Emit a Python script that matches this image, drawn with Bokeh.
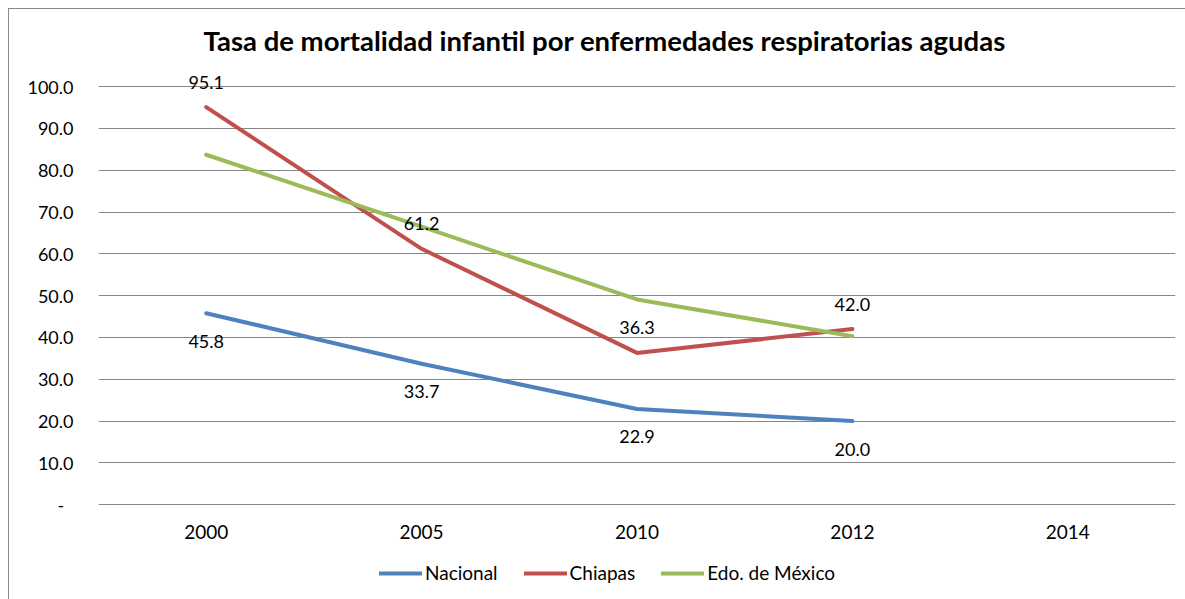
from bokeh.plotting import figure
from bokeh.models import (ColumnDataSource, LabelSet, Legend, LegendItem,
                          FixedTicker, Range1d)
from bokeh.core.properties import value
from bokeh.embed import file_html
from bokeh.resources import INLINE

# ---- data ----
categories = ["2000", "2005", "2010", "2012", "2014"]
data_years = ["2000", "2005", "2010", "2012"]
nacional = [45.8, 33.7, 22.9, 20.0]
chiapas = [95.1, 61.2, 36.3, 42.0]
edomex = [83.7, 66.5, 49.1, 40.3]
y_ticks = [0, 10, 20, 30, 40, 50, 60, 70, 80, 90, 100]
y_tick_labels = ["-\u00a0\u00a0", "10.0", "20.0", "30.0", "40.0", "50.0", "60.0",
                 "70.0", "80.0", "90.0", "100.0"]
title_text = "Tasa de mortalidad infantil por enfermedades respiratorias agudas"
series_names = ["Nacional", "Chiapas", "Edo. de México"]
colors = ["#4F81BD", "#C0504D", "#9BBB59"]

FONT = "Lato"
Y_MIN, Y_MAX = -21, 106   # extra room below/above the 0-100 scale for axis labels & legend

p = figure(x_range=categories, y_range=Range1d(Y_MIN, Y_MAX), width=1177, height=591,
           output_backend="svg", toolbar_location=None, tools="",
           min_border_left=89, min_border_right=11, min_border_top=52,
           min_border_bottom=8)
p.styles = {"margin-left": "8px", "margin-top": "8px",
            "border-left": "1.5px solid #8a8a8a", "border-top": "1.5px solid #8a8a8a"}

p.title.text = title_text
p.title.text_font = FONT
p.title.text_font_style = "bold"
p.title.text_font_size = "27.5px"
p.title.align = "left"
p.title.offset = 105
p.title.text_color = "#000000"

p.outline_line_color = None
p.background_fill_color = "white"
p.border_fill_color = "white"

p.xgrid.grid_line_color = None
p.ygrid.grid_line_color = "#868686"
p.ygrid.grid_line_width = 1

p.xaxis.visible = False
p.yaxis.ticker = FixedTicker(ticks=y_ticks)
p.yaxis.major_label_overrides = dict(zip(y_ticks, y_tick_labels))
p.yaxis.axis_line_color = None
p.yaxis.major_tick_line_color = None
p.yaxis.minor_tick_line_color = None
p.yaxis.major_label_text_font = FONT
p.yaxis.major_label_text_font_size = "18px"
p.yaxis.major_label_text_color = "#000000"
p.yaxis.major_label_standoff = 19

# category labels under the zero line
cat_src = ColumnDataSource(dict(x=categories, y=[y_ticks[0]] * len(categories), t=categories))
p.add_layout(LabelSet(x="x", y="y", text="t", source=cat_src, text_align="center",
                      text_baseline="middle", y_offset=-27, text_font=value(FONT),
                      text_font_size="19px", text_color="#000000"))

renderers = []
for name, vals, col in zip(series_names, [nacional, chiapas, edomex], colors):
    src = ColumnDataSource(dict(x=data_years, y=vals))
    r = p.line("x", "y", source=src, line_color=col, line_width=4,
               line_join="round", line_cap="round")
    renderers.append(r)

# data labels
lab_nac = ColumnDataSource(dict(x=data_years, y=nacional,
                                t=[f"{v:.1f}" for v in nacional]))
lab_chi = ColumnDataSource(dict(x=data_years, y=chiapas,
                                t=[f"{v:.1f}" for v in chiapas]))
p.add_layout(LabelSet(x="x", y="y", text="t", source=lab_nac, text_align="center",
                      text_baseline="middle", y_offset=-28, text_font=value(FONT),
                      text_font_size="18px", text_color="#000000"))
p.add_layout(LabelSet(x="x", y="y", text="t", source=lab_chi, text_align="center",
                      text_baseline="middle", y_offset=25, text_font=value(FONT),
                      text_font_size="18px", text_color="#000000"))

legend = Legend(items=[LegendItem(label=n, renderers=[r])
                       for n, r in zip(series_names, renderers)],
                orientation="horizontal", location=(281, 8),
                glyph_width=43, glyph_height=18, label_standoff=3, spacing=26,
                padding=0, margin=0, border_line_color=None,
                background_fill_alpha=0, label_text_font=FONT,
                label_text_font_size="19px", label_text_color="#000000")
p.add_layout(legend, "center")

open("out.html", "w").write(file_html(p, INLINE))
